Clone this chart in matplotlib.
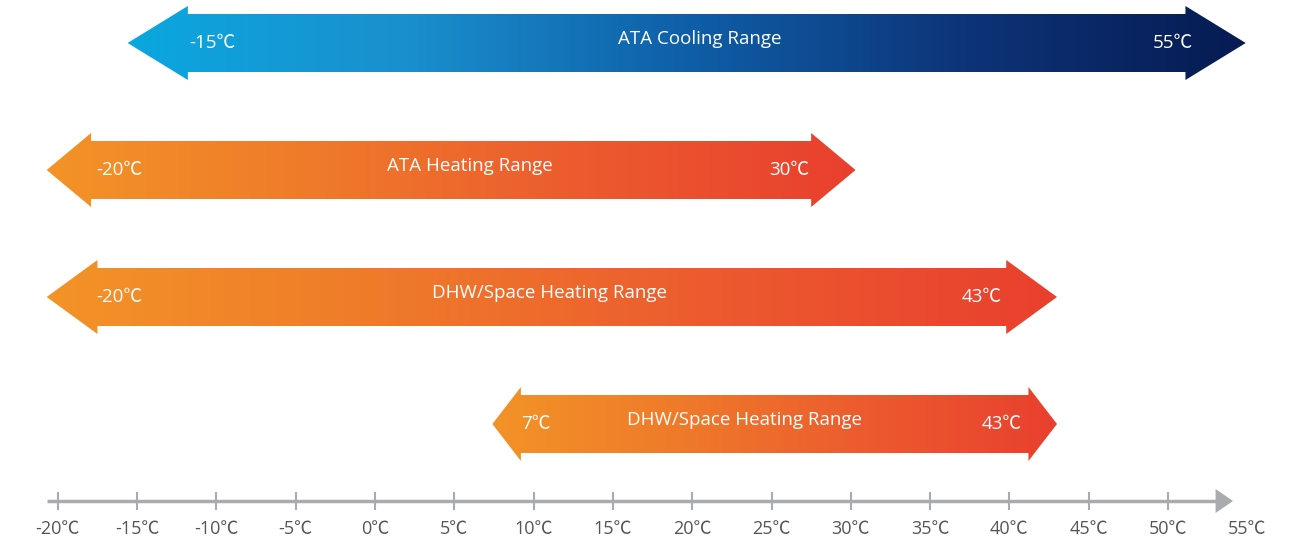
import numpy as np
import matplotlib.pyplot as plt
from matplotlib.patches import Polygon
from matplotlib.colors import LinearSegmentedColormap

plt.rcParams['font.family'] = ['Open Sans', 'Noto Sans CJK SC']

# temperature ranges (deg C)
range_names = ["ATA Cooling Range", "ATA Heating Range",
               "DHW/Space Heating Range", "DHW/Space Heating Range"]
range_low = [-15, -20, -20, 7]
range_high = [55, 30, 43, 43]
tick_values = list(range(-20, 60, 5))

# layout (x in degrees, y in pixels)
row_y = [43, 170, 297, 424]
title_pos = [20.5, 6, 11, 23.3]
low_label_x = [-11.7, -17.6, -17.6, 9.2]
high_label_x = [51.6, 27.4, 39.5, 40.8]
head_len = [3.8, 2.8, 3.2, 1.8]
tip_left = [-15.6, -20.7, -20.7, 7.4]
tip_right = [54.9, 30.3, 43.0, 43.0]
body_half = 29
head_half = 37

cool_cmap = LinearSegmentedColormap.from_list(
    "cool", ["#0ba7df", "#1a8fcd", "#0f5fa8", "#0d3478", "#061b52"])
heat_cmap = LinearSegmentedColormap.from_list(
    "heat", ["#f39327", "#ef7a2a", "#ec5a2f", "#e9402e"])
cmaps = [cool_cmap, heat_cmap, heat_cmap, heat_cmap]

px0, scale = 375, 15.86  # pixel of 0C and pixels per degree

fig = plt.figure(figsize=(12.93, 5.41), dpi=100)
ax = fig.add_axes([0, 0, 1, 1])
ax.set_xlim(-px0 / scale, (1293 - px0) / scale)
ax.set_ylim(541, 0)
ax.axis("off")

gradient = np.linspace(0, 1, 256).reshape(1, -1)

for i in range(len(range_names)):
    y = row_y[i]
    xl, xr, hl = tip_left[i], tip_right[i], head_len[i]
    pts = [
        (xl, y),
        (xl + hl, y - head_half),
        (xl + hl, y - body_half),
        (xr - hl, y - body_half),
        (xr - hl, y - head_half),
        (xr, y),
        (xr - hl, y + head_half),
        (xr - hl, y + body_half),
        (xl + hl, y + body_half),
        (xl + hl, y + head_half),
    ]
    poly = Polygon(pts, closed=True, facecolor="none", edgecolor="none")
    ax.add_patch(poly)
    im = ax.imshow(gradient, cmap=cmaps[i], aspect="auto",
                   extent=(xl, xr, y + head_half, y - head_half),
                   interpolation="bilinear")
    im.set_clip_path(poly)

    ax.text(low_label_x[i], y, f"{range_low[i]}℃", color="white",
            fontsize=13.5, ha="left", va="center")
    ax.text(high_label_x[i], y, f"{range_high[i]}℃", color="white",
            fontsize=13.5, ha="right", va="center")
    ax.text(title_pos[i], y - 4, range_names[i], color="white",
            fontsize=13.5, ha="center", va="center")

# bottom temperature axis
axis_y = 501
axis_color = "#a9acaf"
ax.plot([-20.7, 53.5], [axis_y, axis_y], color=axis_color, lw=2.5,
        solid_capstyle="butt")
ax.add_patch(Polygon([(53.0, axis_y - 12), (54.1, axis_y), (53.0, axis_y + 12)],
                     closed=True, facecolor=axis_color, edgecolor="none"))
for t in tick_values:
    if t < 55:
        ax.plot([t, t], [axis_y - 8, axis_y + 8], color=axis_color, lw=1.5)
    ax.text(t, 529, f"{t}℃", color="#555555", fontsize=13,
            ha="center", va="center")

fig.savefig("out.png", dpi=100)
